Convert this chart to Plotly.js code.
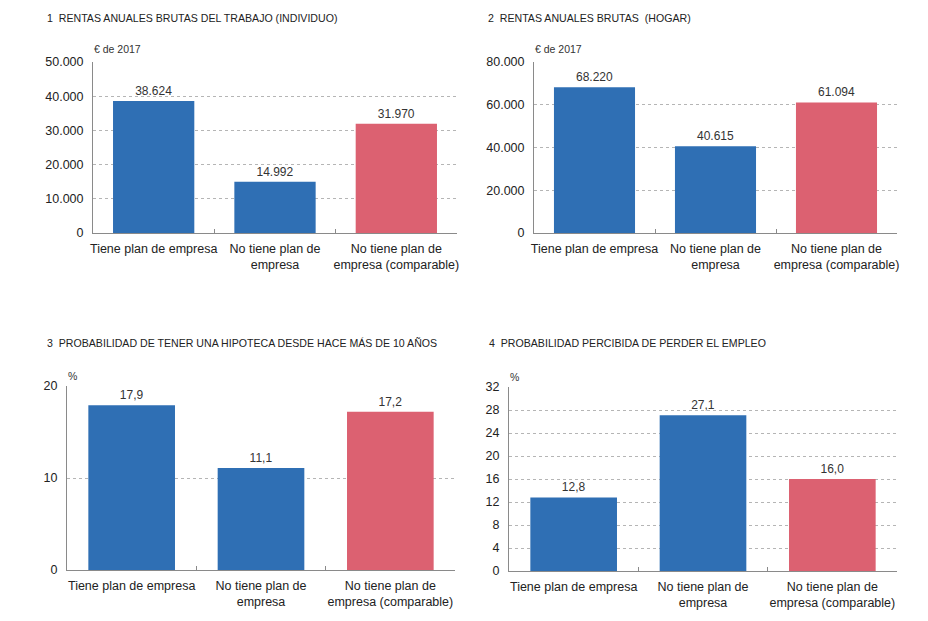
<!DOCTYPE html>
<html>
<head>
<meta charset="utf-8">
<script src="https://cdn.plot.ly/plotly-3.0.1.min.js"></script>
<style>html,body{margin:0;padding:0;background:#fff;}#chart{width:928px;height:621px;}</style>
</head>
<body>
<div id="chart"></div>
<script>
const categories = ["Tiene plan de empresa", "No tiene plan de<br>empresa", "No tiene plan de<br>empresa (comparable)"];
const rentasIndividuo = [38624, 14992, 31970];
const rentasHogar = [68220, 40615, 61094];
const probHipoteca = [17.9, 11.1, 17.2];
const probPerderEmpleo = [12.8, 27.1, 16.0];
const barColors = ["#2f6fb4", "#2f6fb4", "#dc6171"];
const panelTitles = [
  "1  RENTAS ANUALES BRUTAS DEL TRABAJO (INDIVIDUO)",
  "2  RENTAS ANUALES BRUTAS  (HOGAR)",
  "3  PROBABILIDAD DE TENER UNA HIPOTECA DESDE HACE MÁS DE 10 AÑOS",
  "4  PROBABILIDAD PERCIBIDA DE PERDER EL EMPLEO"
];
const unitLabels = ["€ de 2017", "€ de 2017", "%", "%"];

const FONT = "Liberation Sans, Arial, sans-serif";
function bar(y, xa, ya, fmt) {
  return {
    type: "bar", x: categories, y: y, xaxis: xa, yaxis: ya,
    marker: {color: barColors},
    text: y, texttemplate: fmt, textposition: "outside", cliponaxis: false,
    textfont: {family: FONT, size: 12, color: "#333"},
    hoverinfo: "skip", showlegend: false
  };
}
const data = [
  bar(rentasIndividuo, "x", "y", "%{y:,.0f}"),
  bar(rentasHogar, "x2", "y2", "%{y:,.0f}"),
  bar(probHipoteca, "x3", "y3", "%{y:.1f}"),
  bar(probPerderEmpleo, "x4", "y4", "%{y:.1f}")
];

function xax(dom, anchor) {
  return {domain: dom, anchor: anchor, showline: true, linecolor: "#8a8a8a", linewidth: 1,
    ticks: "inside", tickson: "boundaries", ticklen: 4, tickcolor: "#8a8a8a", tickangle: 0,
    ticklabelstandoff: 4,
    tickfont: {family: FONT, size: 12.5, color: "#222"}, showgrid: false, fixedrange: true};
}
function yax(dom, anchor, rng, dt) {
  return {domain: dom, anchor: anchor, range: rng, dtick: dt, tick0: 0, showline: true,
    tickformat: ",.0f", exponentformat: "none",
    linecolor: "#8a8a8a", linewidth: 1, showgrid: true, gridcolor: "#b5b5b5", griddash: "dot",
    gridwidth: 1, zeroline: false, ticks: "", ticklabelstandoff: 6,
    tickfont: {family: FONT, size: 12.5, color: "#222"}, fixedrange: true};
}

const W = 928, H = 621;
const fx = v => v / W, fy = v => 1 - v / H;
const layout = {
  width: W, height: H, margin: {l: 0, r: 0, t: 0, b: 0},
  paper_bgcolor: "#fff", plot_bgcolor: "#fff",
  separators: ",.", bargap: 0.33,
  font: {family: FONT, color: "#222"},
  xaxis: xax([fx(93), fx(457)], "y"),
  yaxis: yax([fy(233), fy(62)], "x", [0, 50000], 10000),
  xaxis2: xax([fx(534), fx(897)], "y2"),
  yaxis2: yax([fy(233), fy(62)], "x2", [0, 80000], 20000),
  xaxis3: xax([fx(67), fx(455)], "y3"),
  yaxis3: yax([fy(570), fy(386)], "x3", [0, 20], 10),
  xaxis4: xax([fx(509), fx(897)], "y4"),
  yaxis4: yax([fy(571), fy(387)], "x4", [0, 32], 4),
  annotations: [
    {text: panelTitles[0], x: fx(45), y: fy(18)},
    {text: panelTitles[1], x: fx(486), y: fy(18)},
    {text: panelTitles[2], x: fx(45), y: fy(343)},
    {text: panelTitles[3], x: fx(487), y: fy(343)}
  ].map(a => Object.assign(a, {xref: "paper", yref: "paper", xanchor: "left", yanchor: "middle",
      showarrow: false, font: {family: FONT, size: 10.6, color: "#222"}})).concat([
    {text: unitLabels[0], x: fx(92), y: fy(49)},
    {text: unitLabels[1], x: fx(533), y: fy(49)},
    {text: unitLabels[2], x: fx(66), y: fy(376)},
    {text: unitLabels[3], x: fx(508), y: fy(377)}
  ].map(a => Object.assign(a, {xref: "paper", yref: "paper", xanchor: "left", yanchor: "middle",
      showarrow: false, font: {family: FONT, size: 10.5, color: "#333"}})))
};
Plotly.newPlot("chart", data, layout, {staticPlot: true, displayModeBar: false});
</script>
</body>
</html>
